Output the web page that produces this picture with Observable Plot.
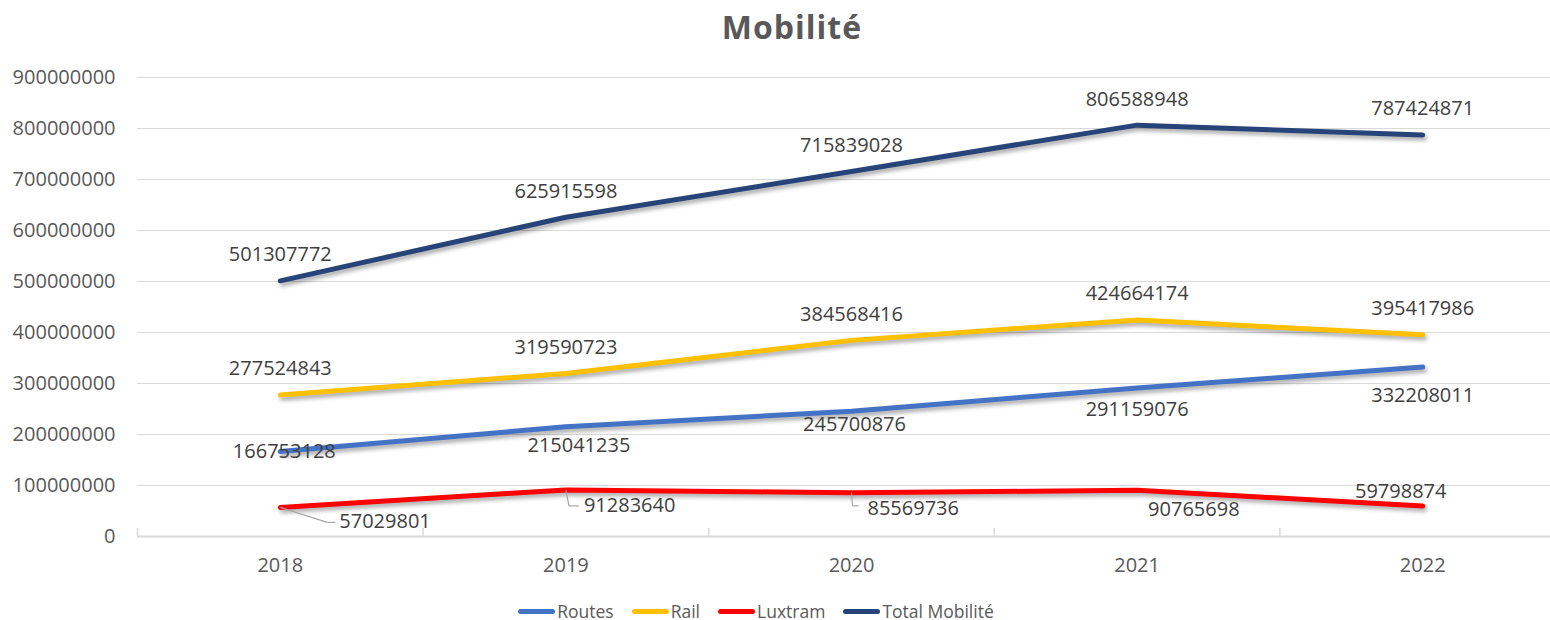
<!DOCTYPE html>
<html>
<head>
<meta charset="utf-8">
<script src="https://cdn.jsdelivr.net/npm/d3@7"></script>
<script src="https://cdn.jsdelivr.net/npm/@observablehq/plot@0.6"></script>
<style>
  html, body { margin: 0; padding: 0; background: #fff; }
  body { width: 1550px; height: 620px; position: relative; overflow: hidden; font-family: "Open Sans", sans-serif; }
  #title { position: absolute; top: 5px; left: 792px; transform: translateX(-50%); font: bold 32px "Open Sans"; color: #595959; letter-spacing: 1px; white-space: nowrap; }
  #chart { position: absolute; top: 60px; left: 0; }
  #legend { position: absolute; top: 599px; left: 0; width: 1512px; display: flex; justify-content: center; align-items: center; font: 17.5px "Open Sans"; color: #595959; }
  .item { display: flex; align-items: center; margin: 0 9px; }
  .sw { width: 37px; height: 5px; border-radius: 3px; margin-right: 2px; }
  g[aria-label="line"] path { filter: drop-shadow(2px 3px 2px rgba(0,0,0,0.35)); }
</style>
</head>
<body>
<div id="title">Mobilité</div>
<div id="chart"></div>
<div id="legend"></div>
<script>
const years = ["2018", "2019", "2020", "2021", "2022"];
const seriesNames = ["Routes", "Rail", "Luxtram", "Total Mobilité"];
const routes = [166753128, 215041235, 245700876, 291159076, 332208011];
const rail = [277524843, 319590723, 384568416, 424664174, 395417986];
const luxtram = [57029801, 91283640, 85569736, 90765698, 59798874];
const total = [501307772, 625915598, 715839028, 806588948, 787424871];
const yTicks = [0, 100000000, 200000000, 300000000, 400000000, 500000000, 600000000, 700000000, 800000000, 900000000];
const colors = ["#4472C4", "#FFC000", "#FF0000", "#264478"];

const seriesValues = [routes, rail, luxtram, total];
const rows = seriesNames.flatMap((s, k) => seriesValues[k].map((v, i) => ({series: s, i, year: years[i], value: v})));
const bySeries = s => rows.filter(d => d.series === s);

const W = 1550, H = 520, ML = 137, MT = 17, MB = 44;
const xRange = [137, 1565];
const pxX = (xRange[1] - xRange[0]) / years.length;       // pixels per category
const unitsPerPxY = 900000000 / (H - MT - MB);             // data units per pixel
const boundaries = d3.range(years.length + 1).map(i => i - 0.5);
const catTickLen = 8 * unitsPerPxY;

// leader lines for Luxtram labels (pixel offsets relative to the point)
const leaderDefs = [
  {i: 0, pts: [[0, 0], [47, 15], [55, 15]]},
  {i: 1, pts: [[0, 0], [3, 16], [13, 16]]},
  {i: 2, pts: [[0, 0], [1, 13], [7, 13]]}
];
const leaders = leaderDefs.flatMap(({i, pts}) => pts.slice(1).map((p, j) => {
  const a = pts[j];
  const v = luxtram[i];
  return {
    x1: i + a[0] / pxX, y1: v - a[1] * unitsPerPxY,
    x2: i + p[0] / pxX, y2: v - p[1] * unitsPerPxY
  };
}));

const lab = {fill: "#404040", fontSize: 20, text: d => String(d.value)};
const lux = bySeries("Luxtram");
const rte = bySeries("Routes");

const chart = Plot.plot({
  width: W, height: H,
  marginLeft: ML, marginRight: 0, marginTop: MT, marginBottom: MB,
  x: {type: "linear", domain: [-0.5, years.length - 0.5], range: xRange},
  y: {domain: [0, 900000000]},
  color: {domain: seriesNames, range: colors},
  style: {fontFamily: "Open Sans", fontSize: "20px", color: "#595959", background: "transparent", overflow: "visible"},
  marks: [
    Plot.ruleY(yTicks.slice(1), {stroke: "#d9d9d9", strokeWidth: 1.2}),
    Plot.ruleY([0], {stroke: "#d9d9d9", strokeWidth: 2}),
    Plot.ruleX(boundaries, {x: d => d, y1: 0, y2: catTickLen, stroke: "#d9d9d9", strokeWidth: 1.5}),
    Plot.axisY({ticks: yTicks, tickSize: 0, tickPadding: 22, tickFormat: d3.format("d"), fontSize: 20}),
    Plot.axisX({ticks: d3.range(years.length), tickSize: 0, tickPadding: 21, tickFormat: i => years[i], fontSize: 20}),
    Plot.line(rows, {x: "i", y: "value", z: "series", stroke: "series", strokeWidth: 5, strokeLinecap: "round", strokeLinejoin: "round"}),
    Plot.link(leaders, {x1: "x1", y1: "y1", x2: "x2", y2: "y2", stroke: "#a6a6a6", strokeWidth: 1.2}),
    // Total Mobilité labels: above
    Plot.text(bySeries("Total Mobilité"), {x: "i", y: "value", dy: -26, ...lab}),
    // Rail labels: above
    Plot.text(bySeries("Rail"), {x: "i", y: "value", dy: -26, ...lab}),
    // Routes labels
    Plot.text(rte.filter(d => d.i === 0), {x: "i", y: "value", dx: 4, dy: 0, ...lab}),
    Plot.text(rte.filter(d => d.i === 1), {x: "i", y: "value", dx: 13, dy: 19, ...lab}),
    Plot.text(rte.filter(d => d.i === 2), {x: "i", y: "value", dx: 3, dy: 13, ...lab}),
    Plot.text(rte.filter(d => d.i === 3), {x: "i", y: "value", dy: 22, ...lab}),
    Plot.text(rte.filter(d => d.i === 4), {x: "i", y: "value", dy: 29, ...lab}),
    // Luxtram labels
    Plot.text(lux.filter(d => d.i === 0), {x: "i", y: "value", dx: 59, dy: 14, textAnchor: "start", ...lab}),
    Plot.text(lux.filter(d => d.i === 1), {x: "i", y: "value", dx: 18, dy: 16, textAnchor: "start", ...lab}),
    Plot.text(lux.filter(d => d.i === 2), {x: "i", y: "value", dx: 16, dy: 16, textAnchor: "start", ...lab}),
    Plot.text(lux.filter(d => d.i === 3), {x: "i", y: "value", dx: 11, dy: 19, textAnchor: "start", ...lab}),
    Plot.text(lux.filter(d => d.i === 4), {x: "i", y: "value", dx: -22, dy: -14, ...lab})
  ]
});
document.getElementById("chart").appendChild(chart);

const legend = document.getElementById("legend");
seriesNames.forEach((s, k) => {
  const it = document.createElement("div");
  it.className = "item";
  const sw = document.createElement("span");
  sw.className = "sw";
  sw.style.background = colors[k];
  const t = document.createElement("span");
  t.textContent = s;
  it.appendChild(sw); it.appendChild(t);
  legend.appendChild(it);
});
</script>
</body>
</html>
